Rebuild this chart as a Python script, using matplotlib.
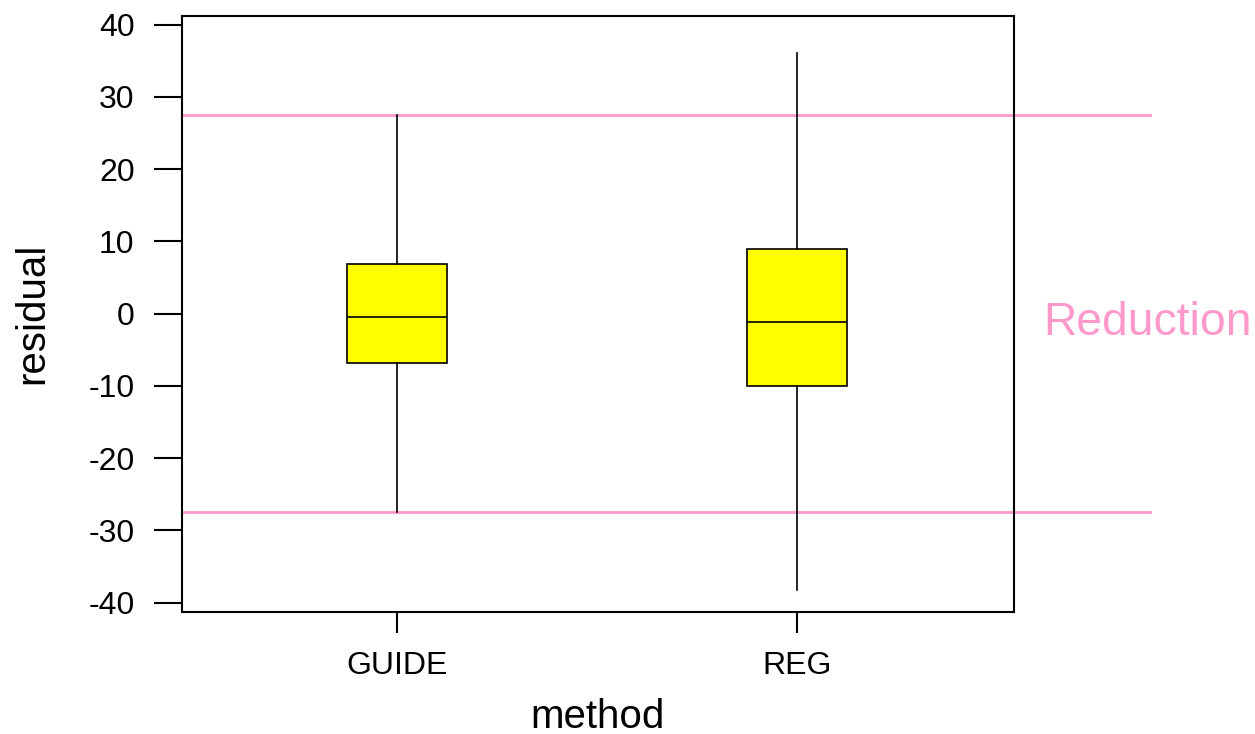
import matplotlib
matplotlib.use("Agg")
import matplotlib.pyplot as plt

plt.rcParams["font.family"] = ["Liberation Sans", "DejaVu Sans"]
plt.rcParams["axes.unicode_minus"] = False

# Box summaries per method
methods = ["GUIDE", "REG"]
q1 = [-6.8, -10.0]
median = [-0.5, -1.1]
q3 = [6.9, 8.9]
whisker_low = [-27.5, -38.2]
whisker_high = [27.5, 36.1]

# Reduction band limits
band = [-27.5, 27.5]

stats = [
    {"label": m, "q1": a, "med": b, "q3": c, "whislo": lo, "whishi": hi, "fliers": []}
    for m, a, b, c, lo, hi in zip(methods, q1, median, q3, whisker_low, whisker_high)
]

fig = plt.figure(figsize=(12.55, 7.34), dpi=100)
ax = fig.add_axes([0.1448, 0.1666, 0.6629, 0.812])

ax.bxp(
    stats, positions=[1, 2], widths=0.25, showcaps=False, showfliers=False,
    patch_artist=True,
    boxprops=dict(facecolor="#FFFF00", edgecolor="black", linewidth=1.2),
    medianprops=dict(color="black", linewidth=1.2),
    whiskerprops=dict(color="black", linewidth=1.2),
)

# pink reference lines reaching past the right frame
trans = ax.get_yaxis_transform()
for yv in band:
    ax.plot([0, 1.164], [yv, yv], transform=trans, color="#FF99CC",
            linewidth=2, clip_on=False, zorder=1)

ax.text(1.035, -2.95, "Reduction", transform=trans, color="#FF99CC",
        fontsize=33.3, va="baseline", ha="left")

ax.set_xlim(0.4625, 2.54)
ax.set_ylim(-41.25, 41.25)
ax.set_yticks(range(-40, 41, 10))
ax.set_xticks([1, 2])
ax.set_xticklabels(methods)

for s in ax.spines.values():
    s.set_linewidth(1.5)
ax.tick_params(axis="y", length=20, width=1.5, labelsize=23, pad=14)
ax.tick_params(axis="x", length=15, width=1.5, labelsize=23, pad=13.5)

ax.set_xlabel("method", fontsize=29, labelpad=12)
ax.set_ylabel("residual", fontsize=29)
ax.yaxis.set_label_coords(-0.157, 0.5)

fig.savefig("out.png", dpi=100)
